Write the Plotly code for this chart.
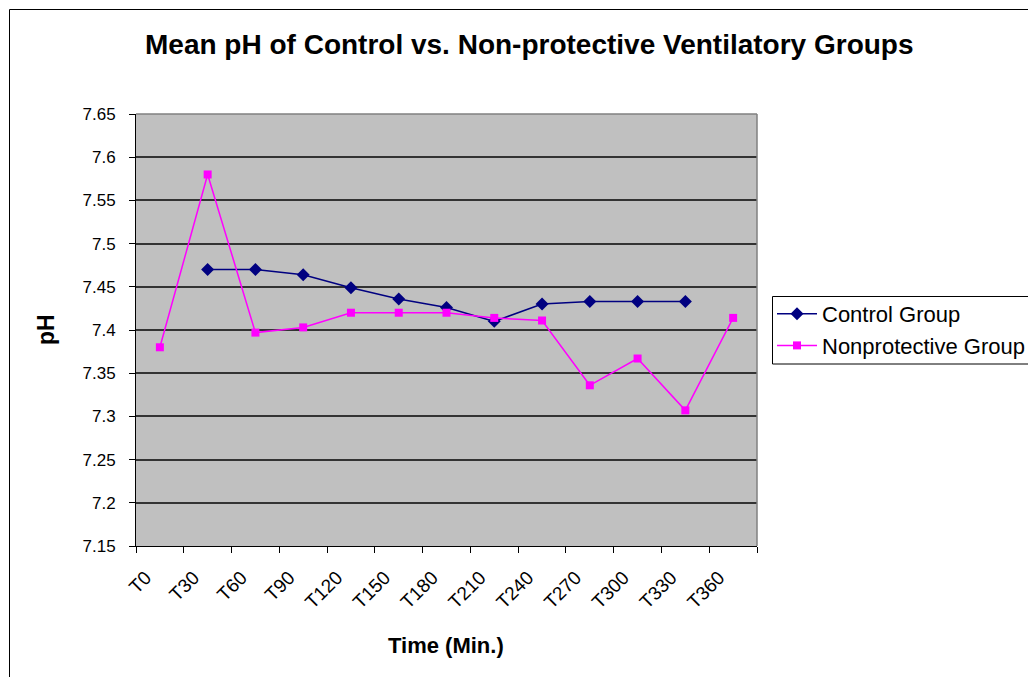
import plotly.graph_objects as go

categories = ["T0", "T30", "T60", "T90", "T120", "T150", "T180", "T210",
              "T240", "T270", "T300", "T330", "T360"]
control = [None, 7.470, 7.470, 7.464, 7.449, 7.436, 7.426, 7.410,
           7.430, 7.433, 7.433, 7.433, None]
nonprotective = [7.380, 7.580, 7.397, 7.403, 7.420, 7.420, 7.420, 7.414,
                 7.411, 7.336, 7.367, 7.307, 7.414]
y_ticks = [7.15, 7.2, 7.25, 7.3, 7.35, 7.4, 7.45, 7.5, 7.55, 7.6, 7.65]
y_tick_text = ["7.15", "7.2", "7.25", "7.3", "7.35", "7.4", "7.45", "7.5",
               "7.55", "7.6", "7.65"]

FONT = "Liberation Sans, Arial, sans-serif"
OFF = 8  # page body margin
W, H = 1036 - OFF, 677 - OFF
L, R, T, B = 136 - OFF, 757 - OFF, 114 - OFF, 546 - OFF  # plot area


def px_x(p):
    return (p - OFF - L) / (R - L)


def px_y(p):
    return (B - (p - OFF)) / (B - T)


fig = go.Figure()
fig.add_trace(go.Scatter(
    x=categories, y=control, name="Control Group", mode="lines+markers",
    line=dict(color="#000080", width=1.5),
    marker=dict(symbol="diamond", size=10, color="#000080"),
    connectgaps=False, legendgroup="a"))
fig.add_trace(go.Scatter(
    x=categories, y=nonprotective, name="Nonprotective Group",
    mode="lines+markers",
    line=dict(color="#FF00FF", width=1.5),
    marker=dict(symbol="square", size=8, color="#FF00FF"),
    legendgroup="b"))

fig.update_layout(
    width=W, height=H,
    margin=dict(l=L, r=W - R, t=T, b=H - B, autoexpand=False),
    paper_bgcolor="white", plot_bgcolor="#C0C0C0",
    font=dict(family=FONT, color="black"),
    showlegend=True,
    legend=dict(x=px_x(772), y=px_y(293), xanchor="left", yanchor="top",
                borderwidth=0, bgcolor="rgba(0,0,0,0)",
                font=dict(size=22, family=FONT), tracegroupgap=0,
                traceorder="grouped", itemwidth=40),
    xaxis=dict(type="category", categoryorder="array", categoryarray=categories,
               range=[-0.5, len(categories) - 0.5],
               tickson="boundaries", ticks="outside", ticklen=6,
               tickcolor="black", showline=True, linecolor="black",
               linewidth=1, showgrid=False, tickangle=-45,
               ticklabelshift=-14, ticklabelstandoff=12,
               tickfont=dict(size=19, family=FONT)),
    yaxis=dict(range=[7.15, 7.65], tickvals=y_ticks, ticktext=y_tick_text,
               ticks="outside", ticklen=6, tickcolor="black",
               showline=True, linecolor="black", linewidth=1,
               showgrid=True, gridcolor="#333333", gridwidth=1.6,
               zeroline=False, ticklabelstandoff=10,
               tickfont=dict(size=17, family=FONT)),
    annotations=[
        dict(text="<b>Mean pH of Control vs. Non-protective Ventilatory Groups</b>",
             xref="paper", yref="paper", x=px_x(529), y=px_y(45),
             xanchor="center", yanchor="middle", showarrow=False,
             font=dict(size=28, family=FONT)),
        dict(text="<b>pH</b>", xref="paper", yref="paper", x=px_x(46),
             y=px_y(330), xanchor="center", yanchor="middle",
             textangle=-90, showarrow=False, font=dict(size=23, family=FONT)),
        dict(text="<b>Time (Min.)</b>", xref="paper", yref="paper",
             x=px_x(446), y=px_y(645), xanchor="center", yanchor="middle",
             showarrow=False, font=dict(size=22, family=FONT)),
    ],
    shapes=[
        dict(type="line", xref="paper", yref="paper", x0=0, x1=1, y0=1, y1=1,
             line=dict(color="#808080", width=1.5)),
        dict(type="line", xref="paper", yref="paper", x0=1, x1=1, y0=0, y1=1,
             line=dict(color="#808080", width=1.5)),
        dict(type="rect", xref="paper", yref="paper",
             x0=px_x(9.5), x1=px_x(1060), y0=px_y(700), y1=px_y(9.5),
             line=dict(color="black", width=1)),
        dict(type="rect", xref="paper", yref="paper",
             x0=px_x(772.5), x1=px_x(1060), y0=px_y(364), y1=px_y(296.5),
             line=dict(color="black", width=1)),
    ],
)

fig.write_html("out.html")
